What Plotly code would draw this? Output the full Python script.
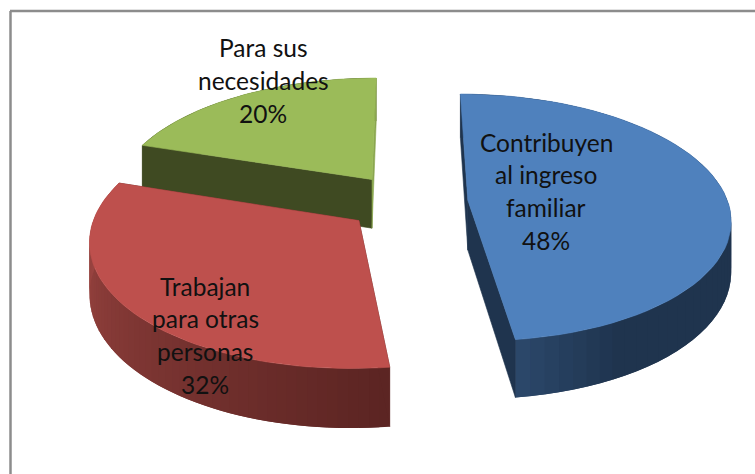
"""
Pastel 3D con porciones separadas, dibujado con Plotly.
"""
import numpy as np
import plotly.graph_objects as go

# Datos
etiquetas = [
    ["Contribuyen", "al ingreso", "familiar"],
    ["Trabajan", "para otras", "personas"],
    ["Para sus", "necesidades"],
]
porcentajes = [48, 32, 20]

# Colores
color_cara = ["#4f81bd", "#be504d", "#9bbb59"]
color_radial_ini = ["#1f344e", "#5c2523", "#3f4a22"]
color_radial_fin = ["#1f344e", "#5c2523", "#8aa64f"]
color_arco_ini = ["#1f344e", "#5c2523", "#3f4a22"]  # pared curva al empezar el arco
color_arco_fin = ["#2b4769", "#a54a46", "#3f4a22"]
tramo_degradado = [0.12, 1.0, 1.0]  # parte final del arco donde cambia el color

# Camara (pixeles)
X0, Y0 = 407, 202
ESC_X, ESC_Y = 260, 121.5
ALTO = 50
PERSP = 0.14
EXPLOSION = 0.235

# Posicion del texto de cada porcion
texto_x = [546, 205, 263]
texto_y = [142, 286, 47.5]
PASO_LINEA = 32.8


def proyectar(u, v, z=0.0):
    d = 1 / (1 + PERSP * np.asarray(v))
    return X0 + ESC_X * np.asarray(u) * d, Y0 - ESC_Y * np.asarray(v) * d + z * ALTO * d


def hex_rgb(c):
    return np.array([int(c[i:i + 2], 16) for i in (1, 3, 5)])


def mezcla(a, b, t):
    r, g, az = (hex_rgb(a) * (1 - t) + hex_rgb(b) * t).astype(int)
    return f"rgb({r},{g},{az})"


def poligono(fig, x, y, color, borde=True):
    fig.add_trace(go.Scatter(
        x=list(x) + [x[0]],
        y=list(y) + [y[0]],
        mode='lines' if borde else 'none',
        fill='toself',
        fillcolor=color,
        line=dict(color=color, width=0.6),
        hoverinfo='skip',
        showlegend=False
    ))


fig = go.Figure()

fin = np.cumsum(porcentajes) / sum(porcentajes) * 2 * np.pi
inicio = np.concatenate([[0], fin[:-1]])

# De atras hacia delante: verde, rojo, azul
for i in [2, 1, 0]:
    medio = (inicio[i] + fin[i]) / 2
    cu, cv = EXPLOSION * np.sin(medio), EXPLOSION * np.cos(medio)
    ang = np.linspace(inicio[i], fin[i], 61)
    u, v = cu + np.sin(ang), cv + np.cos(ang)

    # Pared curva con degradado; cada trozo pisa al anterior para evitar rayas
    xt, yt = proyectar(u, v)
    xb, yb = proyectar(u, v, 1)
    pasos = len(ang) - 1
    for k in range(pasos):
        t = max(0, 1 - (1 - k / (pasos - 1)) / tramo_degradado[i])
        b = min(k + 2, pasos)
        color = mezcla(color_arco_ini[i], color_arco_fin[i], t)
        poligono(fig, [xt[k], xt[b], xb[b], xb[k]], [yt[k], yt[b], yb[b], yb[k]], color, borde=False)

    # Paredes radiales
    for a, col in [(inicio[i], color_radial_ini[i]), (fin[i], color_radial_fin[i])]:
        ur, vr = np.array([cu, cu + np.sin(a)]), np.array([cv, cv + np.cos(a)])
        xr, yr = proyectar(ur, vr)
        xs, ys = proyectar(ur, vr, 1)
        poligono(fig, [xr[0], xr[1], xs[1], xs[0]], [yr[0], yr[1], ys[1], ys[0]], col)

    # Cara superior
    px, py = proyectar(np.r_[cu, u], np.r_[cv, v])
    poligono(fig, px, py, color_cara[i])

# Etiquetas
for i, lineas in enumerate(etiquetas):
    for n, linea in enumerate(lineas + [f"{porcentajes[i]}%"]):
        fig.add_annotation(
            x=texto_x[i], y=texto_y[i] + n * PASO_LINEA,
            text=linea, showarrow=False,
            font=dict(family="Lato", size=24.5, color="#111111")
        )

# Marco del grafico
fig.add_shape(type="line", x0=10.5, x1=10.5, y0=11, y1=474, line=dict(color="#8c8c8c", width=2.5))
fig.add_shape(type="line", x0=10, x1=755, y0=11, y1=11, line=dict(color="#8c8c8c", width=2.5))

fig.update_layout(
    width=755,
    height=474,
    margin=dict(l=0, r=0, t=0, b=0),
    paper_bgcolor="white",
    plot_bgcolor="white",
    showlegend=False,
    xaxis=dict(range=[0, 755], visible=False, fixedrange=True),
    yaxis=dict(range=[474, 0], visible=False, fixedrange=True),
)

fig.write_html(
    "out.html",
    config={"displayModeBar": False},
    post_script="document.body.style.margin='0';document.body.style.overflow='hidden';"
)
